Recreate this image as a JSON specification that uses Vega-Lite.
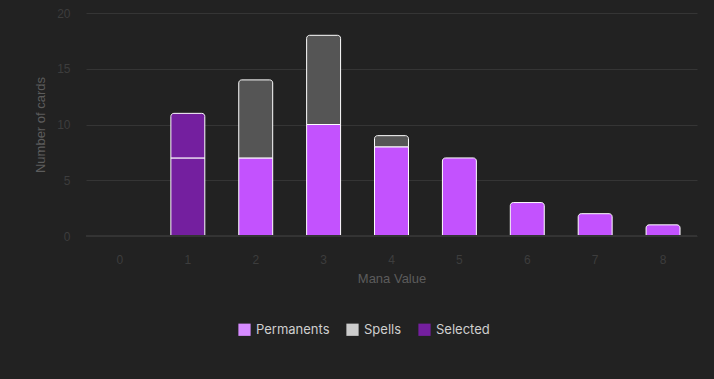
{
  "$schema": "https://vega.github.io/schema/vega-lite/v6.json",
  "width": 611,
  "height": 223,
  "autosize": {"type": "none"},
  "padding": {"left": 86, "top": 13, "right": 17, "bottom": 143},
  "background": "#222222",
  "data": {
    "values": [
      {"mana": 1, "type": "Permanents", "group": "Selected", "series": "Selected", "count": 7},
      {"mana": 1, "type": "Spells", "group": "Selected", "series": "Selected", "count": 4},
      {"mana": 2, "type": "Permanents", "group": "Permanents", "series": "Permanents", "count": 7},
      {"mana": 2, "type": "Spells", "group": "Spells", "series": "Spells", "count": 7},
      {"mana": 3, "type": "Permanents", "group": "Permanents", "series": "Permanents", "count": 10},
      {"mana": 3, "type": "Spells", "group": "Spells", "series": "Spells", "count": 8},
      {"mana": 4, "type": "Permanents", "group": "Permanents", "series": "Permanents", "count": 8},
      {"mana": 4, "type": "Spells", "group": "Spells", "series": "Spells", "count": 1},
      {"mana": 5, "type": "Permanents", "group": "Permanents", "series": "Permanents", "count": 7},
      {"mana": 6, "type": "Permanents", "group": "Permanents", "series": "Permanents", "count": 3},
      {"mana": 7, "type": "Permanents", "group": "Permanents", "series": "Permanents", "count": 2},
      {"mana": 8, "type": "Permanents", "group": "Permanents", "series": "Permanents", "count": 1}
    ]
  },
  "transform": [
    {"stack": "count", "groupby": ["mana"], "sort": [{"field": "type", "order": "ascending"}], "as": ["y0", "y1"]},
    {"joinaggregate": [{"op": "max", "field": "y1", "as": "top"}], "groupby": ["mana"]}
  ],
  "encoding": {
    "x": {
      "field": "mana",
      "type": "ordinal",
      "scale": {"domain": [0, 1, 2, 3, 4, 5, 6, 7, 8], "paddingInner": 0.5, "paddingOuter": 0.25},
      "axis": {
        "title": "Mana Value",
        "labelAngle": 0,
        "domain": false,
        "ticks": false,
        "grid": false,
        "labelPadding": 18,
        "titlePadding": 7
      }
    }
  },
  "layer": [
    {
      "transform": [{"filter": "datum.y1 < datum.top"}],
      "mark": {"type": "bar", "stroke": "#ffffff", "strokeWidth": 1},
      "encoding": {
        "y": {"field": "y1", "type": "quantitative", "scale": {"domain": [0, 20]}, "axis": {"title": "Number of cards", "values": [0, 5, 10, 15, 20]}},
        "y2": {"field": "y0"},
        "fill": {
          "field": "group",
          "type": "nominal",
          "scale": {"domain": ["Permanents", "Spells", "Selected"], "range": ["#c352fe", "#555555", "#741f9f"]},
          "legend": null
        }
      }
    },
    {
      "transform": [{"filter": "datum.y1 == datum.top"}],
      "mark": {"type": "bar", "stroke": "#ffffff", "strokeWidth": 1, "cornerRadiusTopLeft": 3, "cornerRadiusTopRight": 3},
      "encoding": {
        "y": {"field": "y1", "type": "quantitative"},
        "y2": {"field": "y0"},
        "fill": {"field": "group", "type": "nominal", "legend": null}
      }
    },
    {
      "mark": {"type": "rule", "color": "#353535", "strokeWidth": 1},
      "encoding": {"y": {"datum": 0, "type": "quantitative"}, "x": {"value": 0}, "x2": {"value": 611}}
    },
    {
      "mark": {"type": "point", "shape": "square", "filled": true, "opacity": 0},
      "encoding": {
        "y": {"field": "y1", "type": "quantitative"},
        "color": {
          "field": "series",
          "type": "nominal",
          "scale": {"domain": ["Permanents", "Spells", "Selected"], "range": ["#d68bff", "#cccccc", "#741f9f"]},
          "legend": {
            "title": null,
            "orient": "none",
            "direction": "horizontal",
            "legendX": 152,
            "legendY": 310,
            "symbolType": "square",
            "symbolSize": 150,
            "symbolStrokeWidth": 0,
            "symbolOpacity": 1,
            "labelColor": "#cfcfcf",
            "labelFont": "Inter",
            "labelFontSize": 13,
            "labelOffset": 5,
            "columnPadding": 16
          }
        }
      }
    }
  ],
  "resolve": {"legend": {"color": "independent", "fill": "independent"}},
  "config": {
    "view": {"stroke": null},
    "axis": {
      "labelFont": "Liberation Sans",
      "titleFont": "Liberation Sans",
      "labelFontSize": 12,
      "titleFontSize": 13,
      "titleFontWeight": "normal",
      "labelColor": "#3d3d3d",
      "titleColor": "#5c5c5c",
      "gridColor": "#353535",
      "gridWidth": 1
    },
    "axisY": {
      "domain": false,
      "ticks": false,
      "labelPadding": 16,
      "titlePadding": 9
    }
  }
}
